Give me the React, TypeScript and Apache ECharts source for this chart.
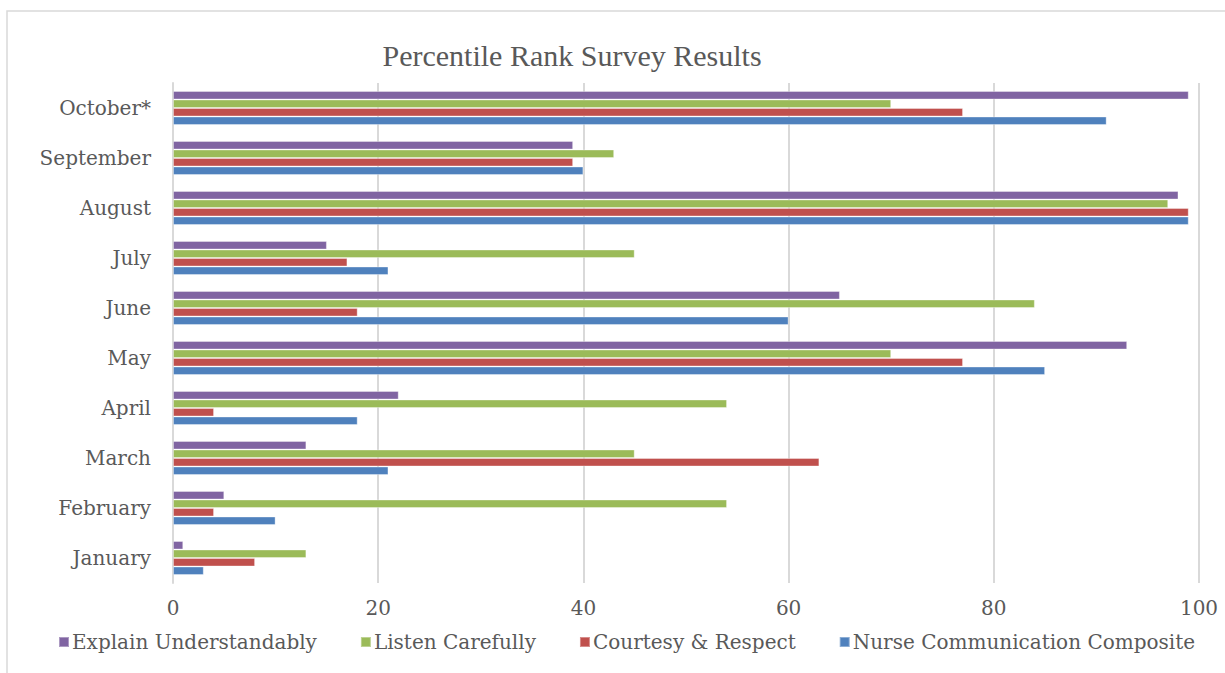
import React, { useEffect, useRef } from "react";
import * as echarts from "echarts";

const categories = ["January", "February", "March", "April", "May", "June", "July", "August", "September", "October*"];
const explainUnderstandably = [1, 5, 13, 22, 93, 65, 15, 98, 39, 99];
const listenCarefully = [13, 54, 45, 54, 70, 84, 45, 97, 43, 70];
const courtesyRespect = [8, 4, 63, 4, 77, 18, 17, 99, 39, 77];
const nurseComposite = [3, 10, 21, 18, 85, 60, 21, 99, 40, 91];
const xTicks = [0, 20, 40, 60, 80, 100];

const FONT = "'DejaVu Serif', serif";
const TITLE_FONT = "'Liberation Serif', serif";
const TXT = "#595959";

export default function App() {
  const ref = useRef<HTMLDivElement>(null);
  useEffect(() => {
    const chart = echarts.init(ref.current!, undefined, { renderer: "svg" });
    const mk = (name: string, data: number[], color: string) => ({
      name,
      type: "bar",
      data,
      barGap: "0%",
      barCategoryGap: "32%",
      itemStyle: { color, borderColor: "rgba(255,255,255,0.35)", borderWidth: 1 },
    });
    chart.setOption({
      animation: false,
      textStyle: { fontFamily: FONT },
      title: {
        text: "Percentile Rank Survey Results",
        left: 567,
        top: 35,
        textAlign: "center",
        textStyle: { fontFamily: TITLE_FONT, fontSize: 30, fontWeight: "normal", color: TXT },
      },
      graphic: [
        {
          type: "polyline",
          shape: { points: [[7, 700], [7, 11], [1240, 11]] },
          style: { stroke: "#d9d9d9", lineWidth: 1.5, fill: "none" },
          silent: true,
        },
      ],
      grid: { left: 173, right: 26, top: 83, bottom: 90, containLabel: false },
      xAxis: {
        type: "value",
        min: xTicks[0],
        max: xTicks[xTicks.length - 1],
        interval: 20,
        axisLine: { show: false },
        axisTick: { show: false },
        splitLine: { lineStyle: { color: "#d9d9d9", width: 2 } },
        axisLabel: { fontFamily: FONT, fontSize: 20, color: TXT, margin: 15 },
      },
      yAxis: {
        type: "category",
        data: categories,
        axisLine: { show: true, lineStyle: { color: "#d9d9d9", width: 2 } },
        axisTick: { show: false },
        axisLabel: { fontFamily: FONT, fontSize: 20, color: TXT, margin: 22 },
      },
      legend: {
        data: ["Explain Understandably", "Listen Carefully", "Courtesy & Respect", "Nurse Communication Composite"],
        left: 53,
        top: 627,
        itemWidth: 10,
        itemHeight: 10,
        itemGap: 43,
        icon: "rect",
        textStyle: { fontFamily: FONT, fontSize: 20, color: TXT, padding: [0, 0, 0, -2] },
      },
      series: [
        mk("Explain Understandably", explainUnderstandably, "#8064A2"),
        mk("Listen Carefully", listenCarefully, "#9BBB59"),
        mk("Courtesy & Respect", courtesyRespect, "#C0504D"),
        mk("Nurse Communication Composite", nurseComposite, "#4F81BD"),
      ],
    });
    return () => chart.dispose();
  }, []);
  return <div ref={ref} style={{ position: "absolute", left: 0, top: 0, width: 1225, height: 673 }} />;
}
